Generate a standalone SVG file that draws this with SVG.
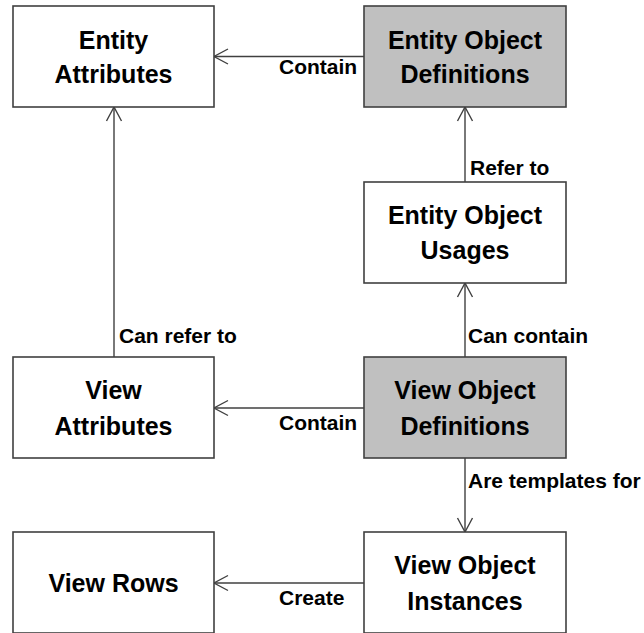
<svg xmlns="http://www.w3.org/2000/svg" width="644" height="633" viewBox="0 0 644 633">
<style>
.box{fill:#ffffff;stroke:#404040;stroke-width:1.6}
.box.g{fill:#c0c0c0}
.t{font-family:"Liberation Sans",Arial,sans-serif;font-weight:bold;font-size:25px;fill:#000;text-anchor:middle}
.l{font-family:"Liberation Sans",Arial,sans-serif;font-weight:bold;font-size:21px;fill:#000}
.c{stroke:#404040;stroke-width:1.4;fill:none;marker-end:url(#a)}
</style>
<defs>
<marker id="a" markerUnits="userSpaceOnUse" markerWidth="20" markerHeight="20" viewBox="-16 -10 20 20" refX="0" refY="0" orient="auto">
<path d="M-14,-7.5 L0,0 L-14,7.5" fill="none" stroke="#404040" stroke-width="1.4"/>
</marker>
</defs>
<rect width="644" height="633" fill="#ffffff"/>
<g id="connectors">
<line class="c" x1="364" y1="56.5" x2="214" y2="56.5"/>
<line class="c" x1="465" y1="182" x2="465" y2="107"/>
<line class="c" x1="465" y1="357" x2="465" y2="283"/>
<line class="c" x1="114" y1="357" x2="114" y2="107"/>
<line class="c" x1="364" y1="408" x2="214" y2="408"/>
<line class="c" x1="465" y1="458" x2="465" y2="532"/>
<line class="c" x1="364" y1="583" x2="214" y2="583"/>
<text class="l" x="279" y="74">Contain</text>
<text class="l" x="470" y="175">Refer to</text>
<text class="l" x="468" y="343">Can contain</text>
<text class="l" x="119" y="343">Can refer to</text>
<text class="l" x="279" y="430">Contain</text>
<text class="l" x="468" y="488">Are templates for</text>
<text class="l" x="279" y="605">Create</text>
</g>
<g id="entity-attributes">
<rect class="box" x="13" y="6" width="201" height="101"/>
<text class="t" x="113.5" y="49">Entity</text>
<text class="t" x="113.5" y="83">Attributes</text>
</g>
<g id="entity-object-definitions">
<rect class="box g" x="364" y="6" width="202" height="101"/>
<text class="t" x="465" y="49">Entity Object</text>
<text class="t" x="465" y="83">Definitions</text>
</g>
<g id="entity-object-usages">
<rect class="box" x="364" y="182" width="202" height="101"/>
<text class="t" x="465" y="224">Entity Object</text>
<text class="t" x="465" y="259">Usages</text>
</g>
<g id="view-attributes">
<rect class="box" x="13" y="357" width="201" height="101"/>
<text class="t" x="113.5" y="399">View</text>
<text class="t" x="113.5" y="435">Attributes</text>
</g>
<g id="view-object-definitions">
<rect class="box g" x="364" y="357" width="202" height="101"/>
<text class="t" x="465" y="399">View Object</text>
<text class="t" x="465" y="435">Definitions</text>
</g>
<g id="view-rows">
<rect class="box" x="13" y="532" width="201" height="101"/>
<text class="t" x="113.5" y="592">View Rows</text>
</g>
<g id="view-object-instances">
<rect class="box" x="364" y="532" width="202" height="101"/>
<text class="t" x="465" y="574">View Object</text>
<text class="t" x="465" y="610">Instances</text>
</g>
</svg>
